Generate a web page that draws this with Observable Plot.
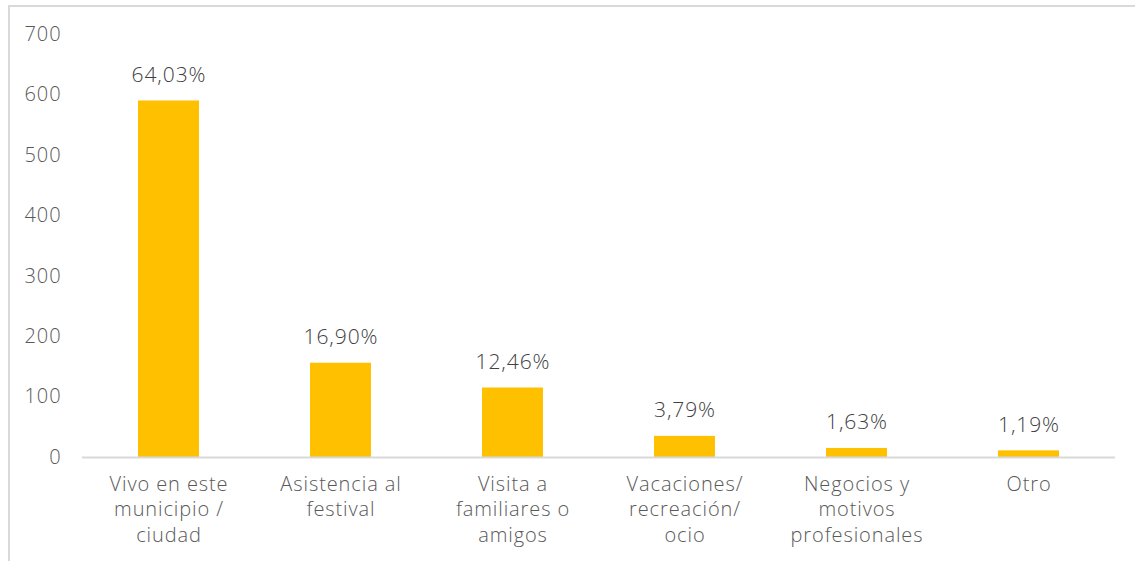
<!DOCTYPE html>
<html>
<head>
<meta charset="utf-8">
<script src="https://cdn.jsdelivr.net/npm/d3@7"></script>
<script src="https://cdn.jsdelivr.net/npm/@observablehq/plot@0.6"></script>
<style>
  html, body { margin: 0; padding: 0; background: #fff; overflow: hidden; }
  #frame { position: absolute; left: 8px; top: 5px; width: 1140px; height: 570px; border-top: 2px solid #d9d9d9; border-left: 2px solid #d9d9d9; }
  #chart { position: absolute; left: 0; top: 0; }
</style>
</head>
<body>
<div id="frame"></div>
<div id="chart"></div>
<script>
const categories = [
  "Vivo en este\nmunicipio /\nciudad",
  "Asistencia al\nfestival",
  "Visita a\nfamiliares o\namigos",
  "Vacaciones/\nrecreación/\nocio",
  "Negocios y\nmotivos\nprofesionales",
  "Otro"
];
const counts = [590, 156, 115, 35, 15, 11];
const percentLabels = ["64,03%", "16,90%", "12,46%", "3,79%", "1,63%", "1,19%"];
const yTicks = [0, 100, 200, 300, 400, 500, 600, 700];

const data = categories.map((c, i) => ({category: c, value: counts[i], label: percentLabels[i]}));

const font = "'Open Sans', sans-serif";

const chart = Plot.plot({
  width: 1135,
  height: 561,
  marginLeft: 82,
  marginRight: 20,
  marginTop: 34,
  marginBottom: 104,
  style: {fontFamily: font, fontSize: "20px", fontWeight: 300, letterSpacing: "0.9px", color: "#595959", background: "transparent"},
  x: {domain: categories, paddingInner: 0.645, paddingOuter: 0.3225, label: null},
  y: {domain: [0, 700], label: null},
  marks: [
    Plot.barY(data, {x: "category", y: "value", fill: "#FFC000"}),
    Plot.ruleY([0], {stroke: "#d9d9d9", strokeWidth: 2}),
    Plot.axisY(yTicks, {tickSize: 0, tickPadding: 21, fontSize: 20, fill: "#595959", label: null}),
    Plot.axisX({tickSize: 0, tickPadding: 15, fontSize: 20, lineHeight: 1.28, fill: "#595959", label: null}),
    Plot.text(data, {x: "category", y: "value", text: "label", dy: -26, fill: "#404040", fontSize: 21, fontFamily: font})
  ]
});
document.getElementById("chart").appendChild(chart);
</script>
</body>
</html>
